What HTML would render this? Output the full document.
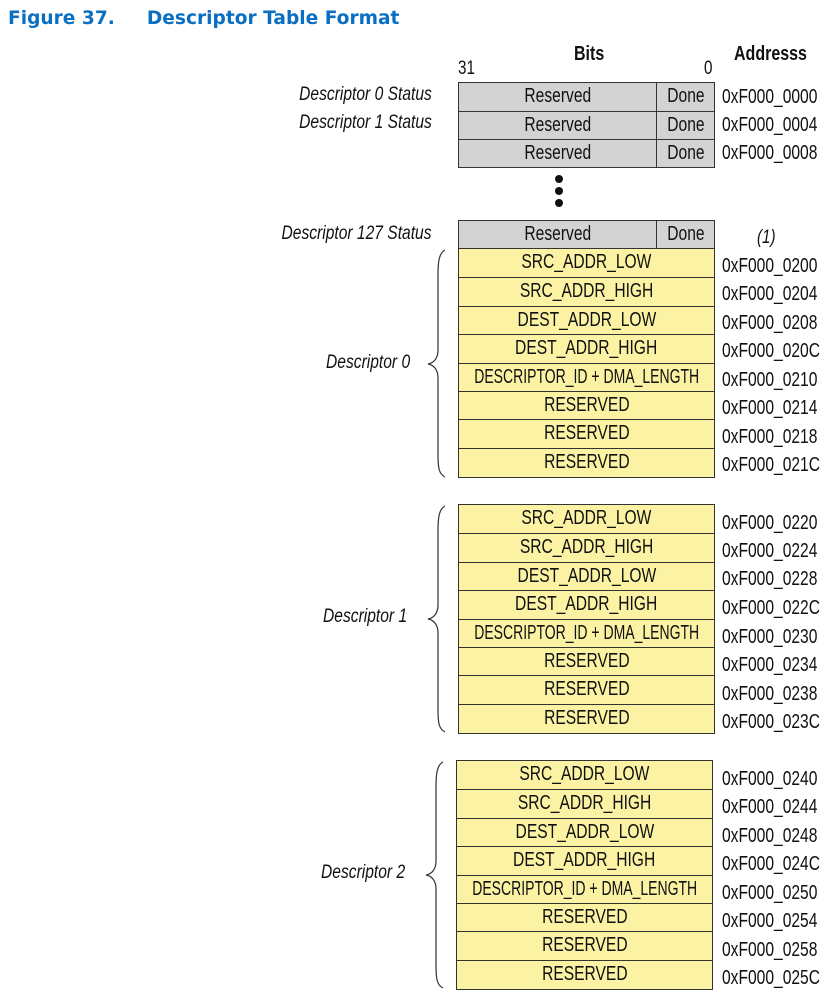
<!DOCTYPE html>
<html><head><meta charset="utf-8"><style>
body{margin:0;width:833px;height:999px;background:#fff;position:relative;overflow:hidden;font-family:"Liberation Sans",sans-serif;color:#111}
.a{position:absolute;white-space:nowrap}
.title{left:8px;top:8px;font-family:"DejaVu Sans",sans-serif;font-weight:bold;font-size:18.6px;color:#0a6fc2}
.box{position:absolute;border:1.5px solid #333;box-sizing:border-box}
.row{box-sizing:border-box;border-top:1.5px solid #333;text-align:center;font-size:20px;overflow:visible;position:relative;white-space:nowrap}
.row:first-child{border-top:none}
.s{display:inline-block;transform:scaleX(.78);transform-origin:center;white-space:nowrap}
.s.d{transform:scaleX(.7);margin:0 -50px}
.y{background:#fbf3a3}
.g{background:#d3d3d3}
.done{position:absolute;left:197px;top:0;bottom:0;right:0;border-left:1.5px solid #333}
.adr{position:absolute;left:722px;font-size:20px;transform:scaleX(.78);transform-origin:left;white-space:nowrap}
.lab{position:absolute;font-size:19.5px;font-style:italic;transform:scaleX(.8);transform-origin:right;text-align:right;white-space:nowrap}
.dot{position:absolute;left:555px;width:8px;height:8px;border-radius:50%;background:#111}
</style></head><body>
<div class="a title">Figure 37.<span style="display:inline-block;width:32px"></span>Descriptor Table Format</div>

<div class="a" style="left:574px;top:43px;font-size:20px;font-weight:bold;transform:scaleX(.8);transform-origin:left">Bits</div>
<div class="a" style="left:734px;top:43px;font-size:20px;font-weight:bold;transform:scaleX(.8);transform-origin:left">Addresss</div>
<div class="a" style="left:458px;top:58px;font-size:19px;transform:scaleX(.8);transform-origin:left">31</div>
<div class="a" style="left:704px;top:58px;font-size:19px;transform:scaleX(.8);transform-origin:left">0</div>

<div class="box g" style="left:458px;top:82px;width:257px;height:86px">
 <div class="row g" style="height:28px;line-height:27px"><span class="s" style="margin-right:58px">Reserved</span><div class="done"><span class="s" style="line-height:27px">Done</span></div></div>
 <div class="row g" style="height:28px;line-height:27px"><span class="s" style="margin-right:58px">Reserved</span><div class="done"><span class="s" style="line-height:27px">Done</span></div></div>
 <div class="row g" style="height:28px;line-height:27px"><span class="s" style="margin-right:58px">Reserved</span><div class="done"><span class="s" style="line-height:27px">Done</span></div></div>
</div>
<div class="adr" style="top:86px">0xF000_0000</div>
<div class="adr" style="top:114px">0xF000_0004</div>
<div class="adr" style="top:142px">0xF000_0008</div>
<div class="lab" style="right:401px;top:83px">Descriptor 0 Status</div>
<div class="lab" style="right:401px;top:111px">Descriptor 1 Status</div>

<div class="dot" style="top:175px"></div>
<div class="dot" style="top:187px"></div>
<div class="dot" style="top:199px"></div>

<div class="box g" style="left:458px;top:220px;width:257px;height:30px">
 <div class="row g" style="height:28px;line-height:27px"><span class="s" style="margin-right:58px">Reserved</span><div class="done"><span class="s" style="line-height:27px">Done</span></div></div>
</div>
<div class="lab" style="right:401px;top:222px">Descriptor 127 Status</div>
<div class="a" style="left:757px;top:227px;font-size:19px;font-style:italic;transform:scaleX(.8);transform-origin:left">(1)</div>

<!-- Descriptor 0 -->
<div class="box y" style="left:458px;top:248px;width:257px;height:230px">
 <div class="row y" style="height:28.4px;line-height:27px"><span class="s">SRC_ADDR_LOW</span></div>
 <div class="row y" style="height:28.4px;line-height:27px"><span class="s">SRC_ADDR_HIGH</span></div>
 <div class="row y" style="height:28.4px;line-height:27px"><span class="s">DEST_ADDR_LOW</span></div>
 <div class="row y" style="height:28.4px;line-height:27px"><span class="s">DEST_ADDR_HIGH</span></div>
 <div class="row y" style="height:28.4px;line-height:27px"><span class="s d">DESCRIPTOR_ID + DMA_LENGTH</span></div>
 <div class="row y" style="height:28.4px;line-height:27px"><span class="s">RESERVED</span></div>
 <div class="row y" style="height:28.4px;line-height:27px"><span class="s">RESERVED</span></div>
 <div class="row y" style="height:28.4px;line-height:27px"><span class="s">RESERVED</span></div>
</div>
<div class="adr" style="top:255px">0xF000_0200</div>
<div class="adr" style="top:283px">0xF000_0204</div>
<div class="adr" style="top:312px">0xF000_0208</div>
<div class="adr" style="top:340px">0xF000_020C</div>
<div class="adr" style="top:369px">0xF000_0210</div>
<div class="adr" style="top:397px">0xF000_0214</div>
<div class="adr" style="top:426px">0xF000_0218</div>
<div class="adr" style="top:454px">0xF000_021C</div>
<div class="lab" style="right:423px;top:351px">Descriptor 0</div>

<!-- Descriptor 1 -->
<div class="box y" style="left:458px;top:504px;width:257px;height:230px">
 <div class="row y" style="height:28.4px;line-height:27px"><span class="s">SRC_ADDR_LOW</span></div>
 <div class="row y" style="height:28.4px;line-height:27px"><span class="s">SRC_ADDR_HIGH</span></div>
 <div class="row y" style="height:28.4px;line-height:27px"><span class="s">DEST_ADDR_LOW</span></div>
 <div class="row y" style="height:28.4px;line-height:27px"><span class="s">DEST_ADDR_HIGH</span></div>
 <div class="row y" style="height:28.4px;line-height:27px"><span class="s d">DESCRIPTOR_ID + DMA_LENGTH</span></div>
 <div class="row y" style="height:28.4px;line-height:27px"><span class="s">RESERVED</span></div>
 <div class="row y" style="height:28.4px;line-height:27px"><span class="s">RESERVED</span></div>
 <div class="row y" style="height:28.4px;line-height:27px"><span class="s">RESERVED</span></div>
</div>
<div class="adr" style="top:512px">0xF000_0220</div>
<div class="adr" style="top:540px">0xF000_0224</div>
<div class="adr" style="top:568px">0xF000_0228</div>
<div class="adr" style="top:597px">0xF000_022C</div>
<div class="adr" style="top:626px">0xF000_0230</div>
<div class="adr" style="top:654px">0xF000_0234</div>
<div class="adr" style="top:683px">0xF000_0238</div>
<div class="adr" style="top:711px">0xF000_023C</div>
<div class="lab" style="right:426px;top:605px">Descriptor 1</div>

<!-- Descriptor 2 -->
<div class="box y" style="left:456px;top:760px;width:257px;height:230px">
 <div class="row y" style="height:28.4px;line-height:27px"><span class="s">SRC_ADDR_LOW</span></div>
 <div class="row y" style="height:28.4px;line-height:27px"><span class="s">SRC_ADDR_HIGH</span></div>
 <div class="row y" style="height:28.4px;line-height:27px"><span class="s">DEST_ADDR_LOW</span></div>
 <div class="row y" style="height:28.4px;line-height:27px"><span class="s">DEST_ADDR_HIGH</span></div>
 <div class="row y" style="height:28.4px;line-height:27px"><span class="s d">DESCRIPTOR_ID + DMA_LENGTH</span></div>
 <div class="row y" style="height:28.4px;line-height:27px"><span class="s">RESERVED</span></div>
 <div class="row y" style="height:28.4px;line-height:27px"><span class="s">RESERVED</span></div>
 <div class="row y" style="height:28.4px;line-height:27px"><span class="s">RESERVED</span></div>
</div>
<div class="adr" style="top:768px">0xF000_0240</div>
<div class="adr" style="top:796px">0xF000_0244</div>
<div class="adr" style="top:825px">0xF000_0248</div>
<div class="adr" style="top:853px">0xF000_024C</div>
<div class="adr" style="top:882px">0xF000_0250</div>
<div class="adr" style="top:910px">0xF000_0254</div>
<div class="adr" style="top:939px">0xF000_0258</div>
<div class="adr" style="top:967px">0xF000_025C</div>
<div class="lab" style="right:428px;top:861px">Descriptor 2</div>

<svg class="a" style="left:0;top:0" width="833" height="999" fill="none" stroke="#333" stroke-width="1.2">
 <path d="M445,250 C439,253 438,262 438,275 L438,350 C438,358 434,363 428,364 C434,365 438,370 438,378 L438,455 C438,468 439,474 445,477"/>
 <path d="M445,506 C439,509 438,518 438,531 L438,605 C438,613 434,618 428,619 C434,620 438,625 438,633 L438,710 C438,723 439,729 445,732"/>
 <path d="M443,762 C437,765 436,774 436,787 L436,861 C436,869 432,874 426,875 C432,876 436,881 436,889 L436,966 C436,979 437,985 443,988"/>
</svg>
</body></html>
